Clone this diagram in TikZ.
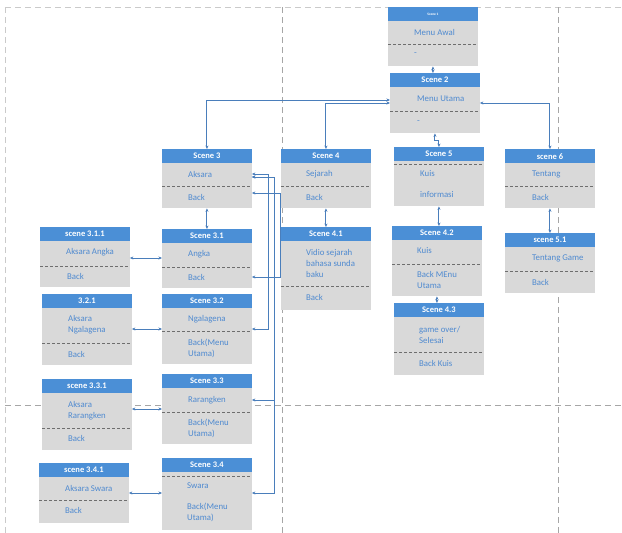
\documentclass[tikz,border=0pt]{standalone}
\usepackage{fontspec}
\setmainfont{Carlito}
\usetikzlibrary{arrows.meta}
\usetikzlibrary{positioning}

\definecolor{headblue}{HTML}{4B8FD6}
\definecolor{boxgray}{HTML}{D9D9D9}
\definecolor{txtblue}{HTML}{4F8AD0}
\definecolor{linkblue}{HTML}{4A7EBB}
\definecolor{sepgray}{HTML}{6E6E6E}
\definecolor{pagegray}{HTML}{A6A6A6}

\begin{document}
\begin{tikzpicture}[x=1pt,y=-1pt,
  box/.style={fill=boxgray,minimum width=89.5pt,inner sep=0pt,anchor=north west},
  head/.style={fill=headblue,text=white,font=\bfseries\fontsize{8.5}{9}\selectfont,
    minimum width=89.5pt,minimum height=14pt,inner sep=0pt,anchor=north west},
  item/.style={text=txtblue,font=\fontsize{8.8}{11}\selectfont,align=left,
    inner sep=0pt,anchor=west},
  sep/.style={sepgray,densely dashed,line width=0.5pt},
  link/.style={linkblue,line width=1pt,
    {Stealth[length=3.5pt,width=3pt]}-{Stealth[length=3.5pt,width=3pt]}},
  pagebreak/.style={pagegray,dashed,dash pattern=on 6pt off 4pt,line width=0.6pt}]
\useasboundingbox [fill=white] (0,0) rectangle (622,533);

% page breaks
\draw [pagebreak,pagegray!60] (5,7) -- (622,7);
\draw [pagebreak,pagegray!60] (5,7) -- (5,533);
\draw [pagebreak] (282,7) -- (282,533);
\draw [pagebreak] (558,7) -- (558,533);
\draw [pagebreak] (5,405) -- (622,405);

% scene 1
\node [box,minimum height=59pt] (s1) at (388,7) {};
\node [head,font=\bfseries\fontsize{3.5}{4}\selectfont] (s1h) at (388,7) {Scene 1};
\node [item] (s1a) at (414,32) {Menu Awal};
\draw [sep] (s1.west |- 0,44) -- (s1.east |- 0,44);
\node [item] (s1b) at (414,54) {-};

% scene 2
\node [box,minimum height=60pt] (s2) at (390,73) {};
\node [head] (s2h) at (390,73) {Scene 2};
\node [item] (s2a) at (417,99) {Menu Utama};
\draw [sep] (s2.west |- 0,111) -- (s2.east |- 0,111);
\node [item] (s2b) at (417,122) {-};

% scene 3
\node [box,minimum height=59pt] (s3) at (162,149) {};
\node [head] (s3h) at (162,149) {Scene 3};
\node [item] (s3a) at (188,174) {Aksara};
\draw [sep] (s3.west |- 0,186) -- (s3.east |- 0,186);
\node [item] (s3b) at (188,197) {Back};

% scene 4
\node [box,minimum height=59pt] (s4) at (281,149) {};
\node [head] (s4h) at (281,149) {Scene 4};
\node [item] (s4a) at (306,174) {Sejarah};
\draw [sep] (s4.west |- 0,186) -- (s4.east |- 0,186);
\node [item] (s4b) at (306,197) {Back};

% scene 5
\node [box,minimum height=59pt] (s5) at (394,147) {};
\node [head] (s5h) at (394,147) {Scene 5};
\draw [sep] (s5.west |- 0,164) -- (s5.east |- 0,164);
\node [item] (s5a) at (420,174) {Kuis};
\node [item] (s5b) at (420,195) {informasi};

% scene 6
\node [box,minimum height=59pt] (s6) at (505,149) {};
\node [head] (s6h) at (505,149) {scene 6};
\node [item] (s6a) at (532,174) {Tentang};
\draw [sep] (s6.west |- 0,186) -- (s6.east |- 0,186);
\node [item] (s6b) at (532,197) {Back};

% scene 3.1
\node [box,minimum height=59pt] (s31) at (162,229) {};
\node [head] (s31h) at (162,229) {Scene 3.1};
\node [item] (s31a) at (188,254) {Angka};
\draw [sep] (s31.west |- 0,267) -- (s31.east |- 0,267);
\node [item] (s31b) at (188,277) {Back};

% scene 3.1.1
\node [box,minimum height=60pt] (s311) at (40,227) {};
\node [head] (s311h) at (40,227) {scene 3.1.1};
\node [item] (s311a) at (66,252) {Aksara Angka};
\draw [sep] (s311.west |- 0,266) -- (s311.east |- 0,266);
\node [item] (s311b) at (67,276) {Back};

% scene 4.1
\node [box,minimum height=83pt] (s41) at (281,227) {};
\node [head] (s41h) at (281,227) {Scene 4.1};
\node [item] (s41a) at (306,263) {Vidio sejarah\\bahasa sunda\\baku};
\draw [sep] (s41.west |- 0,286) -- (s41.east |- 0,286);
\node [item] (s41b) at (306,297) {Back};

% scene 4.2
\node [box,minimum height=70pt] (s42) at (392,226) {};
\node [head] (s42h) at (392,226) {Scene 4.2};
\node [item] (s42a) at (417,251) {Kuis};
\draw [sep] (s42.west |- 0,264) -- (s42.east |- 0,264);
\node [item] (s42b) at (417,280) {Back MEnu\\Utama};

% scene 5.1
\node [box,minimum height=60pt] (s51) at (505,233) {};
\node [head] (s51h) at (505,233) {scene 5.1};
\node [item] (s51a) at (532,258) {Tentang Game};
\draw [sep] (s51.west |- 0,271) -- (s51.east |- 0,271);
\node [item] (s51b) at (532,282) {Back};

% 3.2.1
\node [box,minimum height=71pt] (s321) at (42,294) {};
\node [head] (s321h) at (42,294) {3.2.1};
\node [item] (s321a) at (68,324.5) {Aksara\\Ngalagena};
\draw [sep] (s321.west |- 0,343) -- (s321.east |- 0,343);
\node [item] (s321b) at (68,354) {Back};

% scene 3.2
\node [box,minimum height=70pt] (s32) at (162,294) {};
\node [head] (s32h) at (162,294) {Scene 3.2};
\node [item] (s32a) at (188,319) {Ngalagena};
\draw [sep] (s32.west |- 0,331) -- (s32.east |- 0,331);
\node [item] (s32b) at (188,348) {Back(Menu\\Utama)};

% scene 4.3
\node [box,minimum height=72pt] (s43) at (394,303) {};
\node [head] (s43h) at (394,303) {Scene 4.3};
\node [item] (s43a) at (419,335) {game over/\\Selesai};
\draw [sep] (s43.west |- 0,352) -- (s43.east |- 0,352);
\node [item] (s43b) at (419,363) {Back Kuis};

% scene 3.3.1
\node [box,minimum height=71pt] (s331) at (42,379) {};
\node [head] (s331h) at (42,379) {scene 3.3.1};
\node [item] (s331a) at (68,410.5) {Aksara\\Rarangken};
\draw [sep] (s331.west |- 0,428) -- (s331.east |- 0,428);
\node [item] (s331b) at (68,438) {Back};

% scene 3.3
\node [box,minimum height=70pt] (s33) at (162,374) {};
\node [head] (s33h) at (162,374) {Scene 3.3};
\node [item] (s33a) at (188,400) {Rarangken};
\draw [sep] (s33.west |- 0,412) -- (s33.east |- 0,412);
\node [item] (s33b) at (188,428.5) {Back(Menu\\Utama)};

% scene 3.4.1
\node [box,minimum height=60pt] (s341) at (39,463) {};
\node [head] (s341h) at (39,463) {scene 3.4.1};
\node [item] (s341a) at (65,488) {Aksara Swara};
\draw [sep] (s341.west |- 0,500) -- (s341.east |- 0,500);
\node [item] (s341b) at (65,510) {Back};

% scene 3.4
\node [box,minimum height=72pt] (s34) at (162,458) {};
\node [head] (s34h) at (162,458) {Scene 3.4};
\draw [sep] (s34.west |- 0,476) -- (s34.east |- 0,476);
\node [item] (s34a) at (187,486) {Swara};
\node [item] (s34b) at (187,512.5) {Back(Menu\\Utama)};

% links
\draw [link] (s1.south) -- (s1.south |- s2.north);
\draw [link] (s2.west |- 0,100) -| (s3.north);
\draw [link] (s2.west |- 0,103) -| (s4.north);
\draw [link] (s2.east |- 0,103) -| (s6.north);
\draw [link] (s2.south) -- ++(0,7) -| (s5.north);
\draw [link] (s3.south) -- (s31.north);
\draw [link] (s4.south) -- (s41.north);
\draw [link] (s5.south) -- (s5.south |- s42.north);
\draw [link] (s42.south) -- (s42.south |- s43.north);
\draw [link] (s6.south) -- (s51.north);
\draw [link] (s31.west |- 0,258) -- (s311.east |- 0,258);
\draw [link] (s32.west |- 0,329) -- (s321.east |- 0,329);
\draw [link] (s33.west |- 0,409) -- (s331.east |- 0,409);
\draw [link] (s34.west |- 0,493) -- (s341.east |- 0,493);
\draw [link] (s3.east |- 0,174) -- ++(17,0) |- (s32.east |- 0,329);
\draw [link] (s3.east |- 0,177) -- ++(23,0) |- (s33.east |- 0,400);
\draw [link] (s3.east |- 0,177) -- ++(23,0) |- (s34.east |- 0,493);
\draw [link] (s3.east |- 0,193) -- ++(29,0) |- (s31.east |- 0,277);
\end{tikzpicture}
\end{document}
